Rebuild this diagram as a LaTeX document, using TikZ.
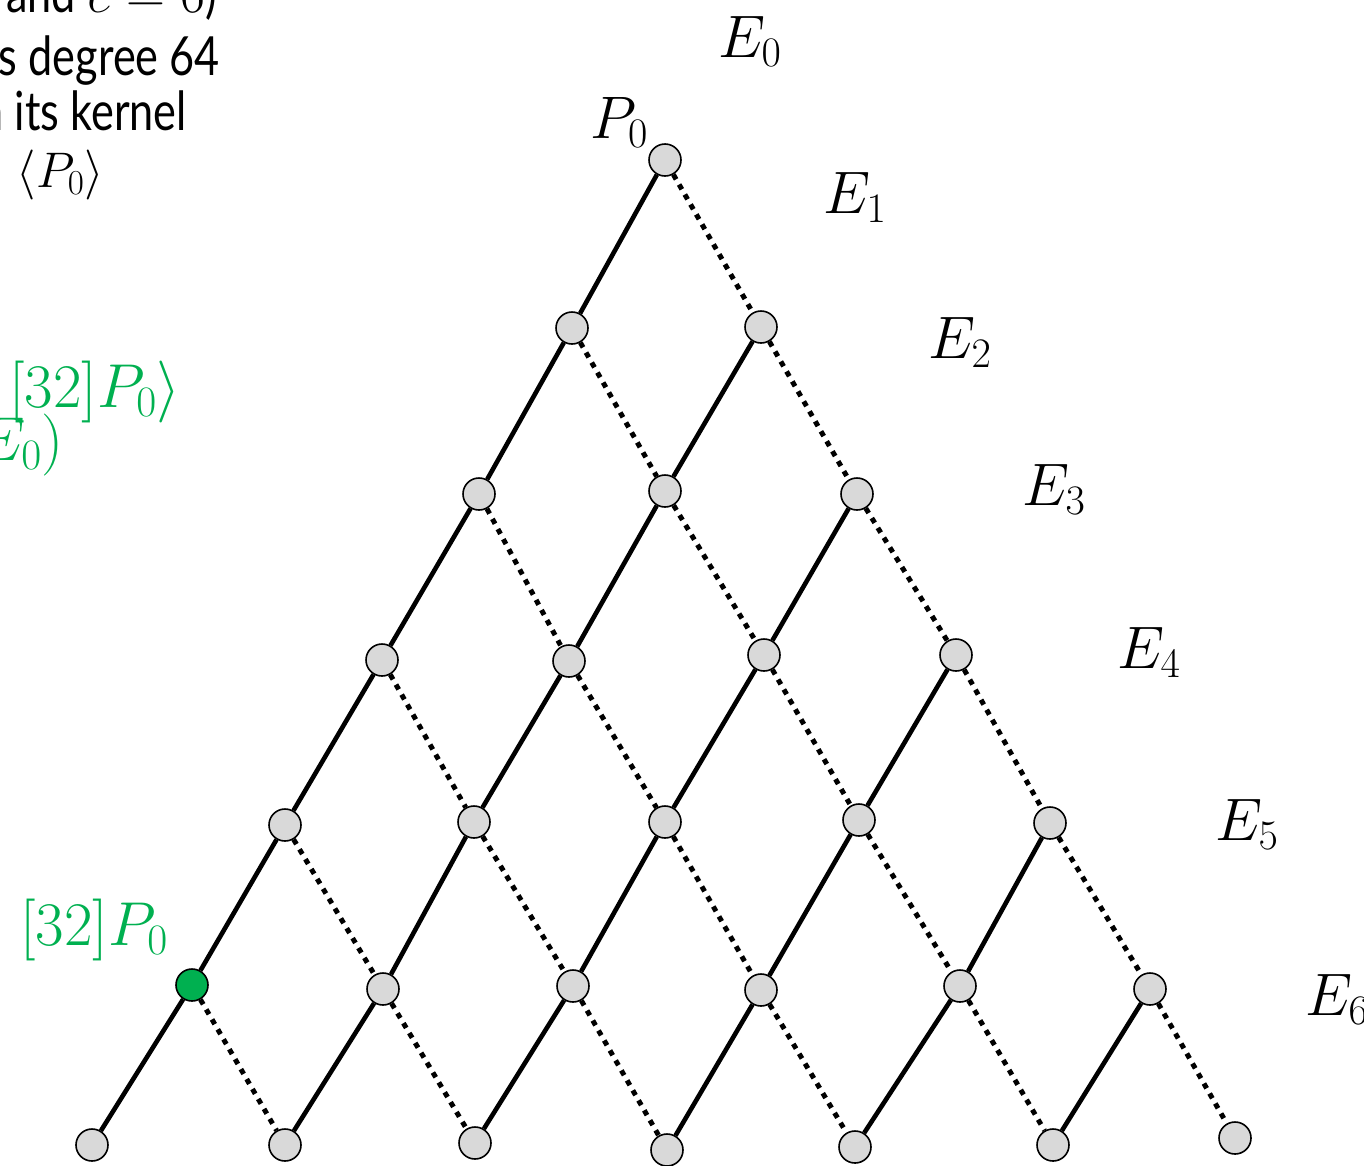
\RequirePackage{fix-cm}
\documentclass[tikz,border=0pt]{standalone}
\usepackage{fontspec}
\newfontfamily\slidefont[FakeStretch=0.8]{Lato}
\definecolor{nodegray}{HTML}{D9D9D9}
\definecolor{kgreen}{HTML}{00B050}
\tikzset{
  vtx/.style={circle,draw=black,line width=1.6pt,fill=nodegray,minimum size=32pt,inner sep=0pt},
  gvtx/.style={vtx,fill=kgreen},
  solidedge/.style={line width=4.6pt},
  dotedge/.style={line width=5pt,dash pattern=on 5.5pt off 6pt},
  mlab/.style={inner sep=0pt,font=\fontsize{60}{66}\selectfont},
  glab/.style={inner sep=0pt,text=kgreen,font=\fontsize{62}{68}\selectfont},
  txt/.style={inner sep=0pt,font=\fontsize{54}{60}\selectfont\slidefont}
}
\begin{document}
\begin{tikzpicture}[x=1pt,y=-1pt]
\useasboundingbox (0,0) rectangle (1364,1165);
\clip (0,0) rectangle (1364,1165);
% nodes
\node[vtx] (n00) at (665,160) {};
\node[vtx] (n10) at (572,328) {};
\node[vtx] (n11) at (761,327) {};
\node[vtx] (n20) at (479,494) {};
\node[vtx] (n21) at (665,491) {};
\node[vtx] (n22) at (857,494) {};
\node[vtx] (n30) at (382,660) {};
\node[vtx] (n31) at (569,661) {};
\node[vtx] (n32) at (764,655) {};
\node[vtx] (n33) at (956,655) {};
\node[vtx] (n40) at (285,825) {};
\node[vtx] (n41) at (474,822) {};
\node[vtx] (n42) at (665,822) {};
\node[vtx] (n43) at (859,820) {};
\node[vtx] (n44) at (1050,823) {};
\node[gvtx] (n50) at (192,985) {};
\node[vtx] (n51) at (383,989) {};
\node[vtx] (n52) at (573,986) {};
\node[vtx] (n53) at (761,990) {};
\node[vtx] (n54) at (960,986) {};
\node[vtx] (n55) at (1150,989) {};
\node[vtx] (n60) at (92,1145) {};
\node[vtx] (n61) at (285,1145) {};
\node[vtx] (n62) at (475,1143) {};
\node[vtx] (n63) at (667,1150) {};
\node[vtx] (n64) at (855,1147) {};
\node[vtx] (n65) at (1053,1145) {};
\node[vtx] (n66) at (1235,1138) {};
% edges
\foreach \i [evaluate=\i as \ni using int(\i+1)] in {0,...,5}{
  \foreach \j in {0,...,\i}{
    \pgfmathtruncatemacro{\nj}{\j+1}
    \draw[solidedge] (n\i\j) -- (n\ni\j);
    \draw[dotedge] (n\i\j) -- (n\ni\nj);
  }
}
% labels E_i
\node[mlab,anchor=base west] (e0) at (718,57) {$E_0$};
\node[mlab,anchor=base west] (e1) at (823,213) {$E_1$};
\node[mlab,anchor=base west] (e2) at (928,358) {$E_2$};
\node[mlab,anchor=base west] (e3) at (1022,505) {$E_3$};
\node[mlab,anchor=base west] (e4) at (1117,668) {$E_4$};
\node[mlab,anchor=base west] (e5) at (1215,840) {$E_5$};
\node[mlab,anchor=base west] (e6) at (1305,1015) {$E_6$};
\node[mlab,anchor=base west] (p0) at (590,138) {$P_0$};
% green labels
\node[glab,anchor=base east] (g1) at (181,407) {$[32]P_0\rangle$};
\node[glab,anchor=base east] (g2) at (64,460) {$E_0)$};
\node[glab,anchor=base east] (g3) at (168,945) {$[32]P_0$};
% top-left text
\node[txt,anchor=base east] (t1) at (217,12) {and $e=6$)};
\node[txt,anchor=base east] (t2) at (220,75) {s degree 64};
\node[txt,anchor=base east] (t3) at (187,130) {n its kernel};
\node[inner sep=0pt,anchor=base east,font=\fontsize{50}{56}\selectfont] (t4) at (104,187) {$=\mkern3mu\langle P_0\rangle$};
\end{tikzpicture}
\end{document}
